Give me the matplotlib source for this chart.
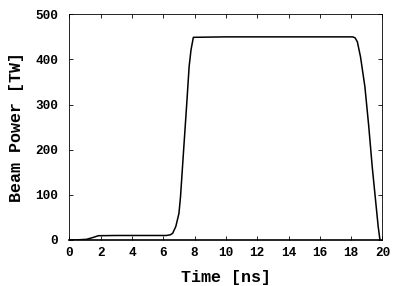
import numpy as np
import matplotlib
matplotlib.use("Agg")
import matplotlib.pyplot as plt

# pulse shape
time_ns = [0.0, 0.5, 1.1, 1.5, 1.85, 3.0, 5.0, 6.2, 6.45, 6.6, 6.8, 7.0, 7.1, 7.3,
           7.5, 7.65, 7.77, 7.92, 10.0, 14.0, 18.1, 18.25, 18.4, 18.6, 18.88,
           19.13, 19.35, 19.56, 19.73, 19.84]
power_tw = [0.0, 0.3, 1.5, 5.5, 9.5, 10.0, 10.0, 10.0, 11.5, 15.0, 30.0, 59.0, 96.0,
            200.0, 303.0, 384.0, 421.0, 449.0, 450.0, 450.0, 450.0, 448.0, 439.0,
            406.0, 340.0, 251.0, 162.0, 89.0, 30.0, 1.5]

xticks = list(range(0, 21, 2))
yticks = [0, 100, 200, 300, 400, 500]

plt.rcParams['font.family'] = ['Liberation Mono', 'DejaVu Sans Mono']

fig = plt.figure(figsize=(4.09, 2.86), dpi=100)
ax = fig.add_axes([69.4 / 409, 46 / 286, 313 / 409, 225.7 / 286])

ax.plot(time_ns, power_tw, color='black', lw=1.1)

ax.set_xlim(0, 20)
ax.set_ylim(0, 500)
ax.set_xticks(xticks)
ax.set_yticks(yticks)
ax.tick_params(direction='in', top=True, right=True, length=3, width=0.6,
               labelsize=9.2)
ax.tick_params(axis='y', pad=8)
ax.tick_params(axis='x', pad=5)
for lab in ax.get_xticklabels() + ax.get_yticklabels():
    lab.set_fontweight('bold')
for s in ax.spines.values():
    s.set_linewidth(0.6)
ax.spines['bottom'].set_linewidth(1.2)

ax.set_xlabel('Time [ns]', fontsize=12, fontweight='bold', labelpad=8)
ax.set_ylabel('Beam Power [TW]', fontsize=12, fontweight='bold', labelpad=8)

fig.savefig('out.png', dpi=100)
